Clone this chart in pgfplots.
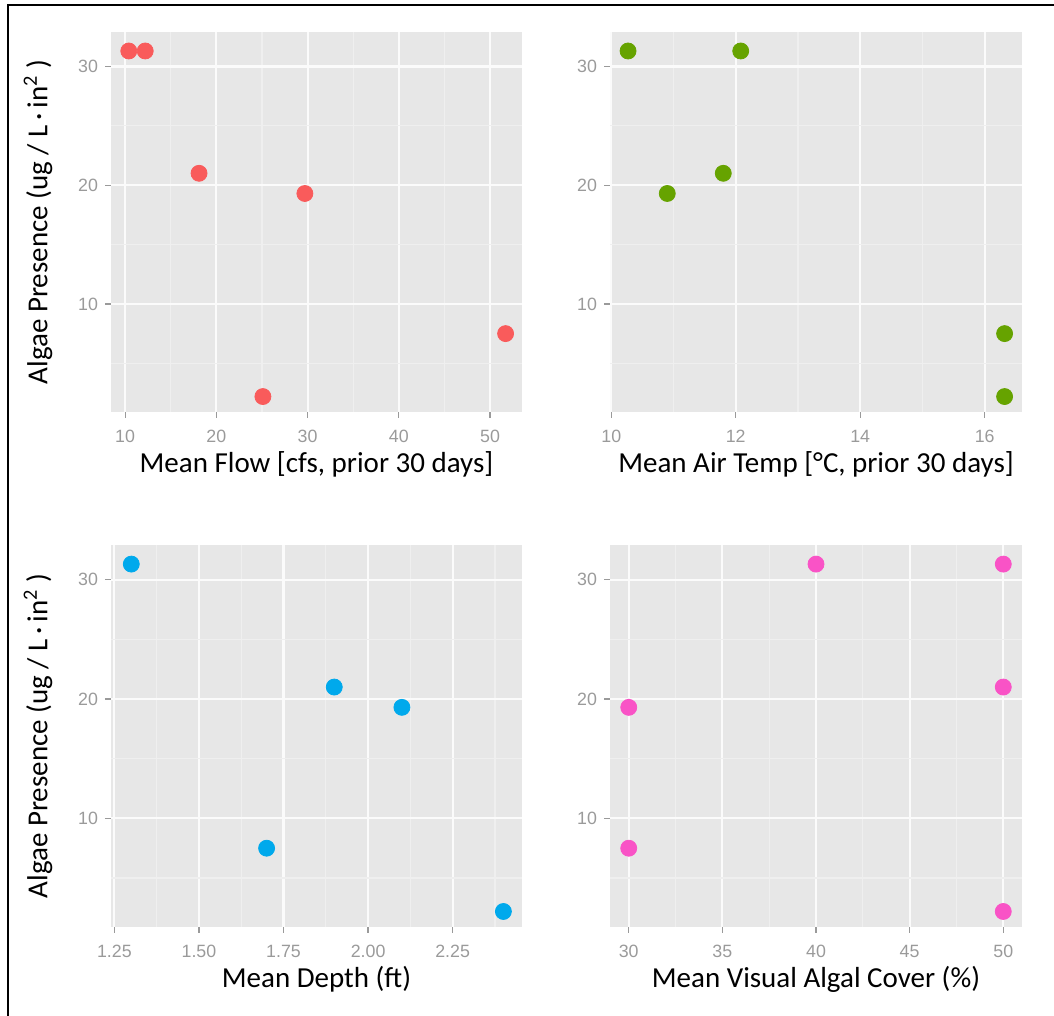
\documentclass[border=0pt]{standalone}
\usepackage{pgfplots}
\pgfplotsset{compat=1.18}
\usepackage{fontspec}
\setmainfont{Carlito}
\newfontfamily\tickfont{Liberation Sans}

\definecolor{panelbg}{HTML}{E7E7E7}
\definecolor{minorgrid}{HTML}{EFEFEF}
\definecolor{ticktext}{HTML}{9A9A9A}
\definecolor{cred}{HTML}{F95B5B}
\definecolor{cgreen}{HTML}{66A300}
\definecolor{cblue}{HTML}{00A9EC}
\definecolor{cpink}{HTML}{F953C6}

\pgfplotsset{
  gg/.style={
    scale only axis,
    anchor=south west,
    axis background/.style={fill=panelbg},
    axis line style={draw=none},
    grid=both,
    major grid style={white!85!panelbg, line width=1.1pt},
    minor grid style={minorgrid, line width=0.6pt},
    tick align=outside,
    xtick pos=left, ytick pos=left,
    major tick length=3pt,
    minor tick length=0pt,
    every tick/.style={ticktext, line width=0.6pt},
    ytick={10,20,30}, minor ytick={5,15,25},
    ymin=0.9, ymax=32.9,
    /pgf/number format/assume math mode=true,
    ticklabel style={font=\tickfont\fontsize{8.9}{10}\selectfont, text=ticktext},
    xticklabel style={anchor=base, yshift=-12.5pt},
    label style={font=\fontsize{14.5}{17}\selectfont},
    xlabel style={at={(axis description cs:0.5,0)}, anchor=base, yshift=-30.5pt},
    ylabel style={at={(axis description cs:-0.155,0.5)}, anchor=base},
    clip=false,
  },
  dots/.style={only marks, mark=*, mark size=4pt, mark options={draw=#1, fill=#1}},
}

\begin{document}
\begin{tikzpicture}
\path[use as bounding box] (0,0) rectangle (527pt,508pt);
\draw[line width=1.4pt] (4pt,0) -- (4pt,505.5pt) -- (527pt,505.5pt);

% flow
\begin{axis}[gg, at={(55.5pt,302pt)}, width=205.5pt, height=190pt,
  xmin=8.45, xmax=53.5, xtick={10,20,30,40,50}, minor xtick={15,25,35,45},
  xlabel={Mean Flow [cfs, prior 30 days]},
  ylabel={Algae Presence (ug / L\,·\,in\textsuperscript{2} )}]
\addplot[dots=cred] coordinates {(10.4,31.3) (12.2,31.3) (18.1,21.0) (29.7,19.3) (25.1,2.2) (51.7,7.5)};
\end{axis}

% air temp
\begin{axis}[gg, at={(305pt,302pt)}, width=206pt, height=190pt,
  xmin=9.98, xmax=16.6, xtick={10,12,14,16}, minor xtick={11,13,15},
  xlabel={Mean Air Temp [°C, prior 30 days]}]
\addplot[dots=cgreen] coordinates {(10.27,31.3) (12.08,31.3) (11.8,21.0) (10.9,19.3) (16.32,7.5) (16.32,2.2)};
\end{axis}

% depth
\begin{axis}[gg, at={(55.5pt,44.5pt)}, width=205.5pt, height=191pt,
  xmin=1.24, xmax=2.455, xtick={1.25,1.5,1.75,2,2.25}, xticklabels={1.25,1.50,1.75,2.00,2.25},
  minor xtick={1.375,1.625,1.875,2.125,2.375},
  xlabel={Mean Depth (ft)},
  ylabel={Algae Presence (ug / L\,·\,in\textsuperscript{2} )}]
\addplot[dots=cblue] coordinates {(1.3,31.3) (1.9,21.0) (2.1,19.3) (1.7,7.5) (2.4,2.2)};
\end{axis}

% visual cover
\begin{axis}[gg, at={(305pt,44.5pt)}, width=206pt, height=191pt,
  xmin=29, xmax=51, xtick={30,35,40,45,50}, minor xtick={32.5,37.5,42.5,47.5},
  xlabel={Mean Visual Algal Cover (\%)}]
\addplot[dots=cpink] coordinates {(40,31.3) (50,31.3) (50,21.0) (30,19.3) (30,7.5) (50,2.2)};
\end{axis}
\end{tikzpicture}
\end{document}
